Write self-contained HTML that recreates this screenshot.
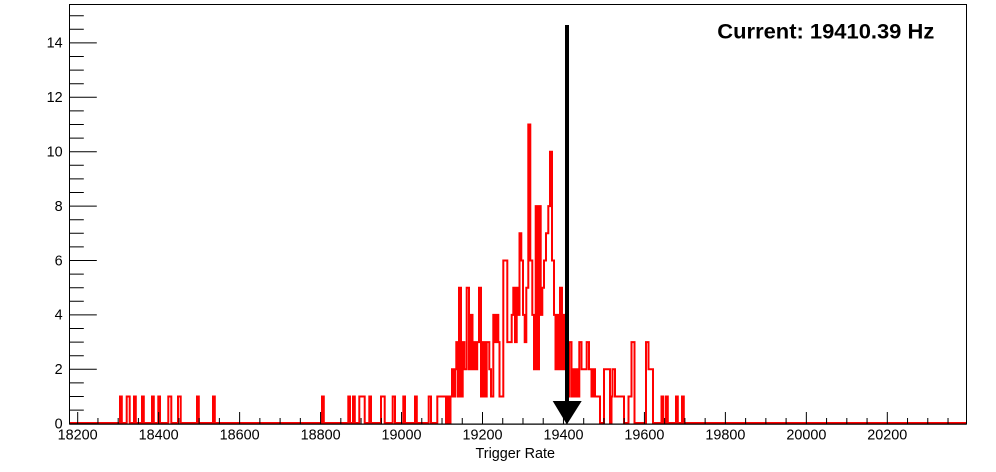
<!DOCTYPE html>
<html><head><meta charset="utf-8"><style>
html,body{margin:0;padding:0;background:#fff;}
svg{display:block;}
text{font-family:"Liberation Sans",Arial,sans-serif;fill:#000;}
</style></head><body>
<svg width="996" height="472" viewBox="0 0 996 472" xmlns="http://www.w3.org/2000/svg">
<rect x="0" y="0" width="996" height="472" fill="#fff"/>
<!-- histogram -->
<path fill="none" stroke="#ff0000" stroke-width="2" stroke-linejoin="miter" d="M69.5,423 H120 V396.5 H121.8 V423 H126.7 V396.5 H129.7 V423 H134 V396.5 H135.8 V423 H142 V396.5 H143.8 V423 H152 V396.5 H153.8 V423 H158.3 V396.5 H160 V423 H168.3 V396.5 H171.3 V423 H178 V396.5 H180.7 V423 H197 V396.5 H198.8 V423 H213 V396.5 H214.8 V423 H322 V396.5 H323.8 V423 H348.3 V396.5 H350 V423 H353 V396.5 H354.8 V423 H359.3 V396.5 H364.7 V423 H369.3 V396.5 H371 V423 H381 V396.5 H384.7 V423 H392.7 V396.5 H395 V423 H403.3 V396.5 H405 V423 H415 V396.5 H416.8 V423 H428.7 V396.5 H431 V423 H437.3 V396.5 H446 V423 H447.5 V396.5 H449 V423 H450.5 V396.5 H452 V369.3 H453.5 V396.5 H455 V369.3 H456.3 V342.1 H457.6 V396.5 H459 V287.7 H461 V396.5 H462.7 V342.1 H464.4 V369.3 H466.7 V287.7 H469 V369.3 H470.7 V314.9 H472.5 V369.3 H474 V342.1 H475.5 V369.3 H477.2 V342.1 H479 V287.7 H481 V396.5 H483 V342.1 H484.7 V396.5 H486.7 V342.1 H489.3 V369.3 H491 V396.5 H493.3 V314.9 H495 V342.1 H496.7 V314.9 H498.3 V342.1 H499.5 V396.5 H503.3 V260.5 H507.3 V342.1 H511.7 V314.9 H513.3 V287.7 H515 V342.1 H516.7 V287.7 H518.3 V314.9 H519.5 V233.3 H521.3 V260.5 H523 V314.9 H524.7 V342.1 H526.3 V287.7 H528.3 V124.5 H530.3 V260.5 H532.3 V314.9 H534 V369.3 H535.7 V206.1 H537.5 V369.3 H539 V206.1 H540.7 V314.9 H542.3 V287.7 H544 V260.5 H546 V233.3 H548.3 V206.1 H550 V151.7 H552 V260.5 H554 V314.9 H555.5 V369.3 H557 V314.9 H558.5 V369.3 H560 V287.7 H562 V369.3 H563.5 V314.9 H565 V369.3 H567 V396.5 H569.3 V342.1 H571.5 V396.5 H572.5 V369.3 H574.5 V396.5 H576 V369.3 H577.5 V396.5 H579.3 V342.1 H581.5 V369.3 H586.7 V342.1 H589 V369.3 H591.5 V396.5 H593.3 V369.3 H595 V396.5 H600 V423 H604 V369.3 H610 V423 H611.5 V396.5 H612.5 V369.3 H615 V396.5 H624 V423 H628.5 V396.5 H631.5 V342.1 H634.5 V423 H646 V342.1 H648.5 V369.3 H653 V423 H661.5 V396.5 H663.3 V423 H666 V396.5 H667.8 V423 H676 V396.5 H677.8 V423 H682 V396.5 H683.8 V423 H966"/>
<!-- frame -->
<rect x="69.5" y="4.5" width="897" height="419.5" fill="none" stroke="#000" stroke-width="1"/>
<line x1="69.5" y1="424.2" x2="966.5" y2="424.2" stroke="#000" stroke-width="1.2"/>
<!-- x ticks -->
<path stroke="#000" stroke-width="1" fill="none" d="M77.7,424V412 M158.66,424V412 M239.62,424V412 M320.58,424V412 M401.54,424V412 M482.5,424V412 M563.46,424V412 M644.42,424V412 M725.38,424V412 M806.34,424V412 M887.3,424V412
M97.94,424V418 M118.18,424V418 M138.42,424V418 M178.9,424V418 M199.14,424V418 M219.38,424V418 M259.86,424V418 M280.1,424V418 M300.34,424V418 M340.82,424V418 M361.06,424V418 M381.3,424V418 M421.78,424V418 M442.02,424V418 M462.26,424V418 M502.74,424V418 M522.98,424V418 M543.22,424V418 M583.7,424V418 M603.94,424V418 M624.18,424V418 M664.66,424V418 M684.9,424V418 M705.14,424V418 M745.62,424V418 M765.86,424V418 M786.1,424V418 M826.58,424V418 M846.82,424V418 M867.06,424V418 M907.54,424V418 M927.78,424V418 M948.02,424V418"/>
<!-- y ticks -->
<path stroke="#000" stroke-width="1" fill="none" d="M69.5,423.7H96.8 M69.5,369.3H96.8 M69.5,314.9H96.8 M69.5,260.5H96.8 M69.5,206.1H96.8 M69.5,151.7H96.8 M69.5,97.3H96.8 M69.5,42.9H96.8
M69.5,410.1H83.8 M69.5,396.5H83.8 M69.5,382.9H83.8 M69.5,355.7H83.8 M69.5,342.1H83.8 M69.5,328.5H83.8 M69.5,301.3H83.8 M69.5,287.7H83.8 M69.5,274.1H83.8 M69.5,246.9H83.8 M69.5,233.3H83.8 M69.5,219.7H83.8 M69.5,192.5H83.8 M69.5,178.9H83.8 M69.5,165.3H83.8 M69.5,138.1H83.8 M69.5,124.5H83.8 M69.5,110.9H83.8 M69.5,83.7H83.8 M69.5,70.1H83.8 M69.5,56.5H83.8 M69.5,29.3H83.8 M69.5,15.7H83.8"/>
<!-- y labels -->
<g font-size="14.4" text-anchor="end">
<text x="62.7" y="428.5">0</text>
<text x="62.7" y="374.1">2</text>
<text x="62.7" y="319.7">4</text>
<text x="62.7" y="265.3">6</text>
<text x="62.7" y="210.9">8</text>
<text x="62.7" y="156.5">10</text>
<text x="62.7" y="102.1">12</text>
<text x="62.7" y="47.7">14</text>
</g>
<!-- x labels -->
<g font-size="14.4" text-anchor="middle">
<text x="77.7" y="439.5">18200</text>
<text x="158.66" y="439.5">18400</text>
<text x="239.62" y="439.5">18600</text>
<text x="320.58" y="439.5">18800</text>
<text x="401.54" y="439.5">19000</text>
<text x="482.5" y="439.5">19200</text>
<text x="563.46" y="439.5">19400</text>
<text x="644.42" y="439.5">19600</text>
<text x="725.38" y="439.5">19800</text>
<text x="806.34" y="439.5">20000</text>
<text x="887.3" y="439.5">20200</text>
</g>
<text x="555" y="457.8" font-size="14.4" text-anchor="end">Trigger Rate</text>
<!-- arrow -->
<rect x="565" y="25" width="4" height="377" fill="#000"/>
<polygon points="552.7,401 581.7,401 566.9,424.5" fill="#000"/>
<!-- title -->
<text x="717.3" y="38.3" font-size="21" font-weight="bold" textLength="217" lengthAdjust="spacingAndGlyphs">Current: 19410.39 Hz</text>
</svg>
</body></html>
